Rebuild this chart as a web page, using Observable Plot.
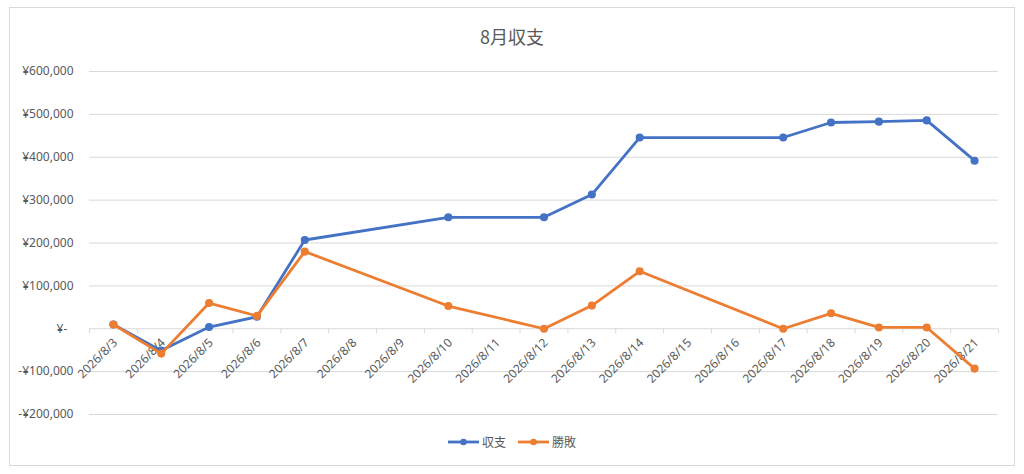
<!DOCTYPE html>
<html><head><meta charset="utf-8">
<script src="https://cdn.jsdelivr.net/npm/d3@7"></script>
<script src="https://cdn.jsdelivr.net/npm/@observablehq/plot@0.6"></script>
<style>
body{margin:0;background:#fff;font-family:"Noto Sans","Noto Sans CJK JP",sans-serif;}
#wrap{position:relative;width:1024px;height:474px;overflow:hidden;background:#fff;}
#frame{position:absolute;left:9px;top:7px;width:1006px;height:459px;border:1px solid #d9d9d9;box-sizing:border-box;}
#title{position:absolute;top:24px;left:0;width:1024px;text-align:center;font-size:18px;line-height:24px;color:#595959;font-family:"Noto Sans CJK JP",sans-serif;}
#chart{position:absolute;left:0;top:55px;}
#legend{position:absolute;top:434px;left:0;width:1024px;display:flex;justify-content:center;gap:12px;font-size:12px;line-height:16px;color:#595959;font-family:"Noto Sans CJK JP",sans-serif;}
.item{display:flex;align-items:center;gap:3px;}
</style></head>
<body>
<div id="wrap">
  <div id="frame"></div>
  <div id="title">8月収支</div>
  <div id="chart"></div>
  <div id="legend"></div>
</div>
<script>
// ---- data ----
const dates = ["2026/8/3","2026/8/4","2026/8/5","2026/8/6","2026/8/7","2026/8/8","2026/8/9","2026/8/10","2026/8/11","2026/8/12","2026/8/13","2026/8/14","2026/8/15","2026/8/16","2026/8/17","2026/8/18","2026/8/19","2026/8/20","2026/8/21"];
const recordDates = ["2026/8/3","2026/8/4","2026/8/5","2026/8/6","2026/8/7","2026/8/10","2026/8/12","2026/8/13","2026/8/14","2026/8/17","2026/8/18","2026/8/19","2026/8/20","2026/8/21"];
const balance = [10000,-51000,4000,28000,207000,260000,260000,313000,446000,446000,481000,483000,486000,392000];
const winLoss = [10000,-58000,60000,30000,180000,53000,0,54000,134000,0,36000,3000,3000,-93000];
const yTicks = [-200000,-100000,0,100000,200000,300000,400000,500000,600000];
const seriesNames = ["収支","勝敗"];
const colors = ["#4472C4","#ED7D31"];

const rows1 = recordDates.map((d,i)=>({date:d, value:balance[i]}));
const rows2 = recordDates.map((d,i)=>({date:d, value:winLoss[i]}));

const W = 1024, H = 380, mL = 89, mR = 26, mT = 16, mB = 21;
const step = (W - mL - mR) / dates.length;

const yfmt = d => d === 0 ? "¥-\u00a0\u00a0" : (d < 0 ? "-" : "") + "¥" + d3.format(",")(Math.abs(d));

const chart = Plot.plot({
  width: W, height: H,
  marginLeft: mL, marginRight: mR, marginTop: mT, marginBottom: mB,
  style: {fontFamily: '"Noto Sans","Noto Sans CJK JP",sans-serif', background: "transparent"},
  x: {type: "point", domain: dates, padding: 0.5, round: false, axis: null},
  y: {domain: [-200000, 600000], ticks: yTicks, axis: null},
  marks: [
    Plot.gridY(yTicks, {stroke: "#d9d9d9", strokeOpacity: 1, strokeWidth: 1}),
    Plot.axisY(yTicks, {tickSize: 0, tickPadding: 16, tickFormat: yfmt, fontSize: 12, fill: "#595959", label: null}),
    Plot.ruleX(dates, {x: d => d, y1: () => 0, y2: () => 0, insetBottom: -5, dx: -step/2, stroke: "#d9d9d9"}),
    Plot.ruleX(dates.slice(-1), {x: d => d, y1: () => 0, y2: () => 0, insetBottom: -5, dx: step/2, stroke: "#d9d9d9"}),
    Plot.text(dates, {x: d => d, y: () => 0, text: d => d, rotate: -45, textAnchor: "end", dx: 2, dy: 12, fontSize: 12, fill: "#595959"}),
    Plot.line(rows1, {x: "date", y: "value", stroke: colors[0], strokeWidth: 2.8, strokeLinejoin: "round", strokeLinecap: "round"}),
    Plot.dot(rows1, {x: "date", y: "value", r: 3.3, fill: colors[0], stroke: colors[0]}),
    Plot.line(rows2, {x: "date", y: "value", stroke: colors[1], strokeWidth: 2.8, strokeLinejoin: "round", strokeLinecap: "round"}),
    Plot.dot(rows2, {x: "date", y: "value", r: 3.3, fill: colors[1], stroke: colors[1]})
  ]
});
document.getElementById("chart").appendChild(chart);

const legend = document.getElementById("legend");
seriesNames.forEach((name, i) => {
  const item = document.createElement("div");
  item.className = "item";
  item.innerHTML = `<svg width="31" height="10"><line x1="0" y1="5" x2="31" y2="5" stroke="${colors[i]}" stroke-width="2.8"/><circle cx="15.5" cy="5" r="3.3" fill="${colors[i]}"/></svg><span>${name}</span>`;
  legend.appendChild(item);
});
</script>
</body></html>
